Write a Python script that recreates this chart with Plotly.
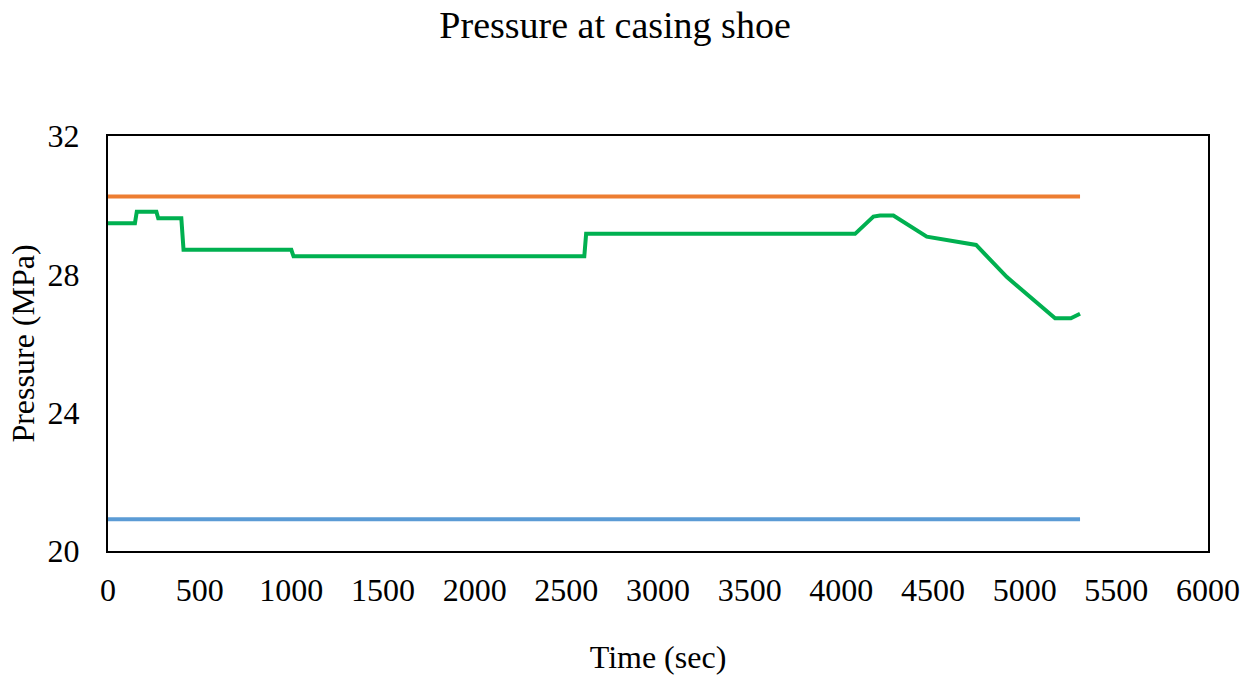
import plotly.graph_objects as go

# Data
time_green = [0, 147, 157, 264, 274, 400, 412, 1000, 1012, 2598, 2608, 4075, 4175, 4211, 4284, 4466, 4735, 4903, 5166, 5252, 5302]
p_green = [29.48, 29.48, 29.81, 29.81, 29.62, 29.62, 28.71, 28.71, 28.52, 28.52, 29.17, 29.17, 29.67, 29.70, 29.70, 29.09, 28.85, 27.92, 26.73, 26.73, 26.86]

time_flat = [0, 5302]
p_upper = [30.25, 30.25]
p_lower = [20.92, 20.92]

x_ticks = [0, 500, 1000, 1500, 2000, 2500, 3000, 3500, 4000, 4500, 5000, 5500, 6000]
y_ticks = [20, 24, 28, 32]

FONT = "Liberation Serif, Times New Roman, serif"
TICK = 32

fig = go.Figure()
fig.add_trace(go.Scatter(x=time_flat, y=p_upper, mode="lines",
                         line=dict(color="#ED7D31", width=4), showlegend=False))
fig.add_trace(go.Scatter(x=time_flat, y=p_lower, mode="lines",
                         line=dict(color="#5B9BD5", width=4), showlegend=False))
fig.add_trace(go.Scatter(x=time_green, y=p_green, mode="lines",
                         line=dict(color="#00B050", width=4), showlegend=False))

fig.update_layout(
    width=1256, height=675,
    paper_bgcolor="white", plot_bgcolor="white",
    margin=dict(l=108, r=48, t=136, b=124),
    font=dict(family=FONT, color="black", size=TICK),
    title=dict(text="Pressure at casing shoe", x=0.4897, xanchor="center",
               y=0.963, yanchor="middle", font=dict(family=FONT, size=38, color="black")),
)
fig.update_xaxes(
    range=[0, 6000], tickvals=x_ticks, ticks="", showgrid=False, zeroline=False,
    showline=True, linecolor="black", linewidth=2, mirror=True, automargin=False,
    tickfont=dict(family=FONT, size=TICK, color="black"), ticklabelstandoff=10,
    title=dict(text="Time (sec)", font=dict(family=FONT, size=TICK, color="black"), standoff=52),
)
fig.update_yaxes(
    range=[20, 32], tickvals=y_ticks, ticks="", showgrid=False, zeroline=False,
    showline=True, linecolor="black", linewidth=2, mirror=True, automargin=False,
    tickfont=dict(family=FONT, size=TICK, color="black"), ticklabelstandoff=20,
    title=dict(text="Pressure (MPa)", font=dict(family=FONT, size=TICK, color="black"), standoff=3),
)

fig.write_html("out.html", config={"displayModeBar": False},
               post_script="document.body.style.margin='0';")
